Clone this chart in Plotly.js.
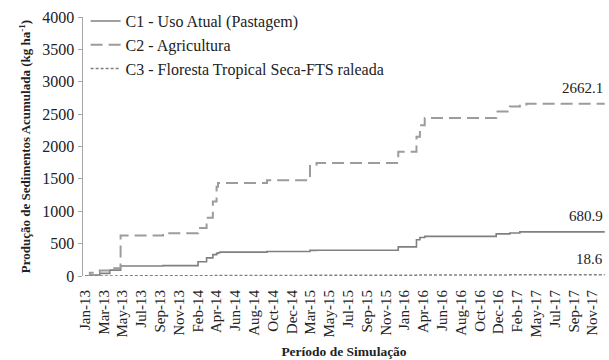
<!DOCTYPE html>
<html>
<head>
<meta charset="utf-8">
<script src="https://cdn.plot.ly/plotly-3.0.1.min.js"></script>
<style>html,body{margin:0;padding:0;background:#fff;}#chart{width:609px;height:360px;}</style>
</head>
<body>
<div id="chart"></div>
<script>
// Event dates (step changes) of the simulation
const dates = ['2013-01-01','2013-01-18','2013-02-22','2013-03-29','2013-05-06','2013-10-02',
  '2014-02-02','2014-03-04','2014-03-26','2014-04-08','2014-04-13','2014-04-20','2014-10-02',
  '2015-03-02','2015-03-25','2016-01-06','2016-03-10','2016-03-22','2016-04-08','2016-12-15',
  '2017-02-01','2017-03-08','2017-03-31','2017-12-31'];

// Accumulated sediment yield (kg ha-1)
const c1Values = [0, 15, 40, 90, 155, 160, 220, 280, 330, 350, 360, 368, 378,
  395, 398, 450, 560, 595, 612, 650, 665, 680.9, 680.9, 680.9];
const c2Values = [0, 50, 85, 120, 624, 660, 740, 900, 1150, 1380, 1436, 1436, 1480,
  1718, 1744, 1920, 2150, 2330, 2440, 2540, 2617, 2650, 2662.1, 2662.1];
const c3Values = [0, 0.5, 1, 1.5, 2.5, 3, 4, 5, 6, 7, 7.5, 8, 8.5,
  10, 10.5, 12, 14, 15, 15.5, 16.5, 17.5, 18.6, 18.6, 18.6];

const seriesNames = ['C1 - Uso Atual (Pastagem)', 'C2 - Agricultura', 'C3 - Floresta Tropical Seca-FTS raleada'];

// Category tick labels and their dates
const tickLabels = ['Jan-13','Mar-13','May-13','Jul-13','Sep-13','Nov-13','Feb-14','Apr-14','Jun-14',
  'Aug-14','Oct-14','Dec-14','Mar-15','May-15','Jul-15','Sep-15','Nov-15','Jan-16','Apr-16',
  'Jun-16','Aug-16','Oct-16','Dec-16','Feb-17','May-17','Jul-17','Sep-17','Nov-17'];
const tickDates = ['2013-01-01','2013-03-08','2013-05-13','2013-07-18','2013-09-22','2013-11-27',
  '2014-02-01','2014-04-08','2014-06-13','2014-08-18','2014-10-23','2014-12-28','2015-03-04',
  '2015-05-09','2015-07-14','2015-09-18','2015-11-23','2016-01-28','2016-04-03','2016-06-08',
  '2016-08-13','2016-10-18','2016-12-23','2017-02-27','2017-05-04','2017-07-09','2017-09-13','2017-11-18'];

const serif = "'Liberation Serif', 'Times New Roman', serif";
const finals = [c1Values[c1Values.length-1], c2Values[c2Values.length-1], c3Values[c3Values.length-1]];
const lastDate = dates[dates.length-1];

const traces = [
  {x: dates, y: c1Values, name: seriesNames[0], type: 'scatter', mode: 'lines',
   line: {shape: 'hv', color: '#808080', width: 1.6}},
  {x: dates, y: c2Values, name: seriesNames[1], type: 'scatter', mode: 'lines',
   line: {shape: 'hv', color: '#9c9c9c', width: 2, dash: '12px,6px'}},
  {x: dates, y: c3Values, name: seriesNames[2], type: 'scatter', mode: 'lines',
   line: {shape: 'hv', color: '#808080', width: 1.5, dash: '3px,2px'}}
];

const annotations = finals.map(v => ({
  x: lastDate, y: v, xref: 'x', yref: 'y', text: v.toFixed(1),
  showarrow: false, xanchor: 'right', yanchor: 'bottom', yshift: 6,
  font: {family: serif, size: 15, color: '#222'}
}));

const layout = {
  width: 609, height: 360,
  margin: {l: 83, r: 4, t: 17, b: 83.5},
  paper_bgcolor: '#fff', plot_bgcolor: '#fff',
  showlegend: true,
  legend: {x: 0.005, y: 1.05, xanchor: 'left', yanchor: 'top', bgcolor: 'rgba(0,0,0,0)',
    font: {family: serif, size: 16, color: '#222'}, tracegroupgap: 0},
  xaxis: {
    type: 'date', range: ['2012-12-25', '2018-01-01'],
    tickmode: 'array', tickvals: tickDates, ticktext: tickLabels,
    tickangle: -90, tickfont: {family: serif, size: 15, color: '#222'},
    showgrid: false, zeroline: false, showline: false,
    ticks: '', ticklabelstandoff: 10,
    title: {text: '<b>Período de Simulação</b>', font: {family: serif, size: 13.5, color: '#222'}, standoff: 10}
  },
  yaxis: {
    range: [0, 4000], tickmode: 'linear', tick0: 0, dtick: 500,
    tickfont: {family: serif, size: 16, color: '#222'},
    showgrid: false, zeroline: false, showline: true, linecolor: '#a6a6a6', linewidth: 1.5,
    ticks: 'outside', ticklen: 4, tickcolor: '#a6a6a6',
    title: {text: '<b>Produção de Sedimentos Acumulada (kg ha<sup>-1</sup>)</b>', font: {family: serif, size: 13, color: '#222'}, standoff: 8}
  },
  annotations: annotations
};

Plotly.newPlot('chart', traces, layout, {displayModeBar: false, staticPlot: true});
</script>
</body>
</html>
